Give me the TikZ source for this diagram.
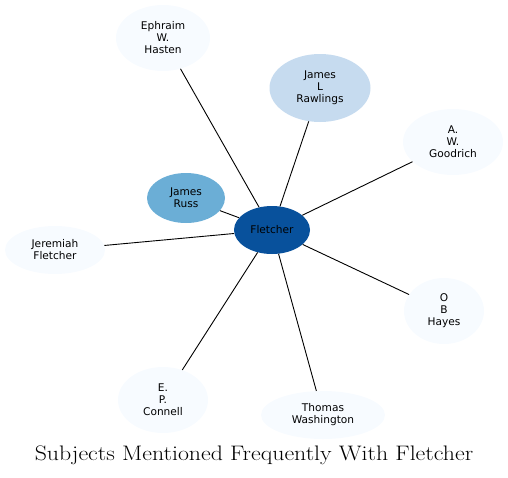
\documentclass[tikz,border=0pt]{standalone}
\usepackage{fontspec}
\setsansfont{DejaVu Sans}
\usepackage{tikz}
\usetikzlibrary{shapes.geometric}
\definecolor{blueA}{HTML}{08519C}
\definecolor{blueB}{HTML}{6BAED6}
\definecolor{blueC}{HTML}{C6DBEF}
\definecolor{blueD}{HTML}{F7FBFF}

\begin{document}
\begin{tikzpicture}[x=1pt, y=-1pt,
		person/.style={ellipse, inner sep=0pt, align=center, font=\sffamily\fontsize{10.6}{12}\selectfont, fill=blueD},
		link/.style={line width=0.9pt}]
		%%%%% START %%%%%
		\useasboundingbox (0, 0) rectangle (508, 477);
		
		\node[person, fill=blueA, minimum width=76, minimum height=48] (fletcher) at (272, 230) {Fletcher};
		\node[person, fill=blueB, minimum width=78, minimum height=50] (russ) at (186, 198) {James\\Russ};
		\node[person, fill=blueC, minimum width=101, minimum height=68] (rawlings) at (320, 88) {James\\L\\Rawlings};
		
		\node[person, minimum width=94, minimum height=66] (hasten) at (163, 38) {Ephraim\\W.\\Hasten};
		\node[person, minimum width=100, minimum height=66] (goodrich) at (453, 142) {A.\\W.\\Goodrich};
		\node[person, minimum width=100, minimum height=48] (jeremiah) at (55, 250) {Jeremiah\\Fletcher};
		
		\node[person, minimum width=80, minimum height=66] (hayes) at (444, 311) {O\\B\\Hayes};
		\node[person, minimum width=90, minimum height=66] (connell) at (163, 400) {E.\\P.\\Connell};
		\node[person, minimum width=124, minimum height=48] (washington) at (323, 415) {Thomas\\Washington};
		
		\draw[link] (fletcher) -- (russ);
		\draw[link] (fletcher) -- (rawlings);
		\draw[link] (fletcher) -- (hasten);
		\draw[link] (fletcher) -- (goodrich);
		\draw[link] (fletcher) -- (jeremiah);
		\draw[link] (fletcher) -- (hayes);
		\draw[link] (fletcher) -- (connell);
		\draw[link] (fletcher) -- (washington);
		
		\node[font=\fontsize{21}{25}\selectfont] (title) at (254, 455) {\scalebox{1.135}[1]{Subjects Mentioned Frequently With Fletcher}};
		%%%%% END %%%%%
	\end{tikzpicture}
\end{document}
